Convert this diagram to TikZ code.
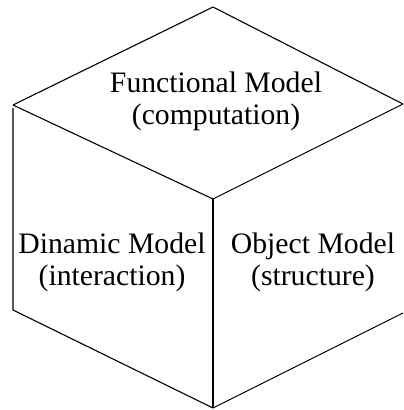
\documentclass[tikz,border=0pt]{standalone}
\usepackage{fontspec}
\setmainfont{Liberation Serif}
\tikzset{
  edge/.style={line width=1.1pt, line join=miter},
  label/.style={align=center, inner sep=0pt, font=\fontsize{29.7}{32}\selectfont}
}
\begin{document}
\begin{tikzpicture}[x=1pt,y=-1pt]
\useasboundingbox (0,0) rectangle (404,410);
\coordinate (T) at (213,7);
\coordinate (L) at (13,105);
\coordinate (R) at (403,104);
\coordinate (C) at (213,199);
\coordinate (LB) at (13,310);
\coordinate (RB) at (403,313);
\coordinate (B) at (213,408);
\coordinate (Ls) at (13,108);
\draw[edge] (L) -- (T) -- (R);
\draw[edge] (L) -- (C) -- (R);
\draw[edge] (Ls) -- (LB) -- (B) -- (RB);
\draw[edge] (C) -- (B);
\node[label, anchor=base] (fm) at (216,124) {Functional Model\\(computation)};
\node[label, anchor=base] (dm) at (112,285) {Dinamic Model\\(interaction)};
\node[label, anchor=base] (om) at (313,285) {Object Model\\(structure)};
\end{tikzpicture}
\end{document}
